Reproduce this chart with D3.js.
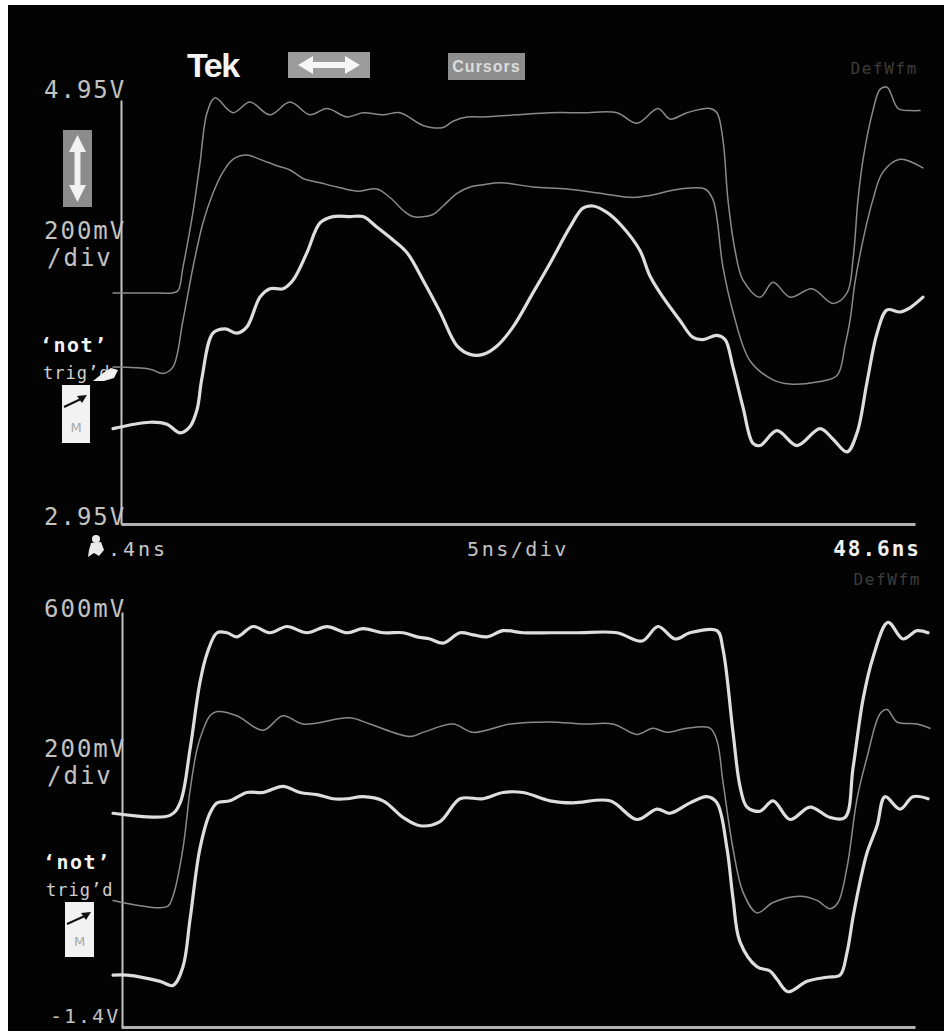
<!DOCTYPE html>
<html>
<head>
<meta charset="utf-8">
<script src="https://cdn.jsdelivr.net/npm/d3@7"></script>
<style>
  html, body { margin: 0; padding: 0; background: #fff; }
  svg { display: block; }
  .mono { font-family: "DejaVu Sans Mono", monospace; }
</style>
</head>
<body>
<svg id="scope" width="944" height="1031"></svg>
<script>
// Time base: -1.4 ns .. 48.6 ns, 5 ns/div
const timeDomain = [-1.4, 48.6];
const timeLabels = [".4ns", "5ns/div", "48.6ns"];

// Upper screen: 2.95 V .. 4.95 V, 200 mV/div
const upperDomain = [2.95, 4.95];
const upperLabels = ["4.95V", "200mV", "/div", "2.95V"];

// Lower screen: -1.4 V .. 600 mV, 200 mV/div
const lowerDomain = [-1.4, 0.6];
const lowerLabels = ["600mV", "200mV", "/div", "-1.4V"];

// Upper screen waveforms [ns, V]
const upperThin1 = [
  [-1.90,4.04],[0.43,4.04],[1.81,4.04],[2.19,4.05],[2.50,4.16],[3.13,4.42],[3.57,4.65],[4.02,4.89],
  [4.52,4.96],[5.65,4.89],[6.72,4.94],[7.98,4.88],[9.24,4.94],[10.50,4.88],[11.57,4.91],[12.83,4.87],
  [13.84,4.89],[15.10,4.88],[16.17,4.89],[17.62,4.83],[18.88,4.82],[19.51,4.85],[20.39,4.87],[21.40,4.87],
  [23.54,4.88],[25.62,4.89],[27.69,4.89],[29.83,4.89],[31.09,4.84],[32.42,4.91],[33.17,4.86],[34.24,4.89],
  [35.69,4.91],[36.13,4.89],[36.51,4.76],[36.82,4.48],[37.27,4.24],[37.77,4.10],[38.84,4.02],[39.66,4.09],
  [40.73,4.02],[42.11,4.06],[43.44,3.99],[44.32,4.04],[44.70,4.20],[45.01,4.48],[45.33,4.67],[45.95,4.90],
  [46.40,5.00],[46.84,5.01],[47.53,4.91],[48.28,4.90],[48.91,4.90]
];
const upperThin2 = [
  [-1.90,3.69],[0.43,3.68],[1.24,3.66],[1.87,3.69],[2.50,3.91],[3.13,4.16],[3.76,4.37],[4.39,4.51],
  [5.02,4.61],[5.65,4.67],[6.53,4.69],[7.35,4.67],[8.42,4.64],[9.24,4.62],[10.06,4.58],[11.13,4.56],
  [12.20,4.54],[13.46,4.52],[14.72,4.53],[15.54,4.49],[16.36,4.43],[16.99,4.40],[18.25,4.41],[18.88,4.45],
  [19.76,4.51],[20.58,4.54],[21.40,4.55],[22.47,4.56],[24.54,4.54],[26.69,4.53],[28.76,4.51],[30.84,4.49],
  [31.91,4.50],[33.80,4.53],[35.38,4.53],[35.88,4.48],[36.51,4.16],[37.14,3.95],[38.21,3.72],[39.66,3.63],
  [40.73,3.61],[42.43,3.62],[43.69,3.65],[44.19,3.79],[44.51,3.91],[44.82,4.09],[45.33,4.29],[45.95,4.48],
  [46.58,4.61],[47.66,4.67],[49.10,4.63]
];
const upperBold = [
  [-1.90,3.40],[0.43,3.43],[1.50,3.42],[2.32,3.38],[2.95,3.41],[3.39,3.49],[3.70,3.64],[4.39,3.85],
  [5.15,3.87],[5.90,3.85],[6.53,3.88],[7.35,4.02],[7.98,4.06],[8.80,4.06],[9.43,4.10],[10.31,4.23],
  [11.13,4.37],[11.95,4.40],[13.02,4.40],[13.84,4.40],[14.72,4.35],[15.73,4.29],[16.61,4.23],[17.62,4.10],
  [18.69,3.95],[19.76,3.79],[20.58,3.75],[21.40,3.75],[22.28,3.79],[23.29,3.88],[24.54,4.04],[25.62,4.18],
  [26.87,4.35],[27.69,4.44],[28.32,4.45],[29.20,4.42],[30.21,4.35],[31.28,4.24],[31.91,4.12],[32.73,4.02],
  [33.80,3.91],[34.62,3.83],[35.25,3.82],[36.13,3.84],[36.64,3.82],[37.14,3.69],[37.77,3.50],[38.40,3.33],
  [38.84,3.32],[39.91,3.39],[41.17,3.32],[42.62,3.40],[43.44,3.35],[44.32,3.29],[44.95,3.38],[45.58,3.62],
  [46.21,3.85],[46.84,3.96],[47.66,3.95],[48.28,3.97],[49.10,4.02]
];

// Lower screen waveforms [ns, V]
const lowerBold1 = [
  [-1.90,-0.37],[1.69,-0.38],[2.32,-0.32],[2.95,-0.06],[3.57,0.26],[4.02,0.40],[4.65,0.50],[5.28,0.50],
  [5.90,0.48],[6.91,0.53],[7.98,0.50],[9.05,0.53],[10.31,0.50],[11.57,0.53],[12.83,0.50],[13.84,0.52],
  [15.10,0.50],[16.36,0.50],[17.24,0.48],[18.06,0.47],[18.88,0.45],[19.95,0.50],[20.77,0.49],[21.65,0.48],
  [22.66,0.51],[23.92,0.50],[25.62,0.50],[27.32,0.50],[29.83,0.50],[31.41,0.46],[32.42,0.53],[33.49,0.47],
  [34.43,0.50],[36.13,0.51],[36.51,0.42],[37.14,0.02],[37.58,-0.24],[38.02,-0.34],[38.84,-0.36],[39.66,-0.31],
  [40.73,-0.40],[41.99,-0.34],[43.25,-0.39],[44.19,-0.39],[44.70,-0.15],[45.33,0.18],[45.95,0.38],[46.90,0.55],
  [47.84,0.47],[48.73,0.51],[49.42,0.50]
];
const lowerThin = [
  [-1.90,-0.79],[1.50,-0.82],[1.87,-0.77],[2.50,-0.54],[2.95,-0.26],[3.39,-0.06],[3.76,0.03],[4.20,0.10],
  [4.65,0.12],[5.90,0.10],[7.54,0.03],[8.80,0.10],[10.06,0.06],[13.02,0.09],[14.28,0.06],[16.80,0.00],
  [17.62,0.02],[19.51,0.06],[20.77,0.02],[23.10,0.06],[25.62,0.07],[27.69,0.06],[29.58,0.06],[31.09,0.01],
  [32.10,0.04],[32.98,0.02],[34.24,0.04],[35.69,0.04],[36.13,-0.02],[36.51,-0.22],[37.14,-0.54],[37.77,-0.75],
  [38.65,-0.85],[39.66,-0.80],[41.36,-0.77],[42.43,-0.79],[43.25,-0.83],[43.75,-0.80],[44.32,-0.63],[44.95,-0.30],
  [45.58,-0.10],[46.40,0.11],[46.84,0.13],[47.47,0.07],[48.73,0.06],[49.54,0.04]
];
const lowerBold2 = [
  [-1.90,-1.15],[-1.02,-1.15],[1.06,-1.18],[1.87,-1.20],[2.50,-1.11],[2.95,-0.88],[3.57,-0.54],[4.20,-0.37],
  [4.65,-0.32],[5.46,-0.31],[6.53,-0.27],[7.54,-0.27],[8.80,-0.24],[9.87,-0.27],[10.94,-0.28],[11.95,-0.30],
  [12.83,-0.30],[13.84,-0.29],[15.10,-0.31],[16.36,-0.39],[17.43,-0.43],[18.69,-0.41],[19.95,-0.30],[21.40,-0.30],
  [22.66,-0.27],[23.92,-0.27],[25.62,-0.31],[27.06,-0.32],[29.39,-0.31],[31.09,-0.40],[32.35,-0.35],[33.17,-0.37],
  [34.43,-0.32],[35.50,-0.29],[36.13,-0.32],[36.76,-0.54],[37.14,-0.78],[37.58,-0.99],[38.65,-1.11],[39.47,-1.13],
  [39.91,-1.17],[40.60,-1.23],[41.80,-1.18],[43.06,-1.16],[43.88,-1.15],[44.32,-1.04],[44.70,-0.87],[45.14,-0.70],
  [45.58,-0.56],[46.21,-0.43],[46.71,-0.29],[47.66,-0.35],[48.47,-0.29],[49.42,-0.30]
];

const svg = d3.select("#scope");
const W = 944, H = 1031;

// screen frame: white margin at top/left, black display
svg.append("rect").attr("width", W).attr("height", H).attr("fill", "#fff");
svg.append("rect").attr("x", 8).attr("y", 5).attr("width", W - 8).attr("height", H - 5).attr("fill", "#030303");

const x = d3.scaleLinear().domain(timeDomain).range([121, 915]);
const yU = d3.scaleLinear().domain(upperDomain).range([524, 100]);
const yL = d3.scaleLinear().domain(lowerDomain).range([1027, 612]);

// axes (baseline + left rail), no ticks
function rails(yScale, xPos) {
  const g = svg.append("g");
  g.append("g").attr("transform", `translate(${xPos},0)`)
    .call(d3.axisLeft(yScale).tickValues([]).tickSizeOuter(0))
    .call(s => s.select(".domain").attr("stroke", "#c4c4c4").attr("stroke-width", 2));
  g.append("g").attr("transform", `translate(0,${yScale.range()[0]})`)
    .call(d3.axisBottom(x).tickValues([]).tickSizeOuter(0))
    .call(s => s.select(".domain").attr("stroke", "#b2b2b2").attr("stroke-width", 3));
}
rails(yU, 121);
rails(yL, 122);

// waveforms
function trace(data, yScale, bold) {
  const line = d3.line()
    .x(d => x(d[0])).y(d => yScale(d[1]))
    .curve(d3.curveCatmullRom.alpha(0.5));
  svg.append("path").datum(data)
    .attr("d", line)
    .attr("fill", "none")
    .attr("stroke", bold ? "#dedede" : "#8a8a8a")
    .attr("stroke-width", bold ? 3.2 : 1.5)
    .attr("stroke-linejoin", "round")
    .attr("stroke-linecap", "round");
}
trace(upperThin1, yU, false);
trace(upperThin2, yU, false);
trace(upperBold, yU, true);
trace(lowerBold1, yL, true);
trace(lowerThin, yL, false);
trace(lowerBold2, yL, true);

// readout text
function txt(s, px, py, opt = {}) {
  return svg.append("text")
    .attr("class", "mono")
    .attr("x", px).attr("y", py)
    .attr("font-size", opt.size || 24)
    .attr("font-weight", opt.weight || "normal")
    .attr("letter-spacing", opt.ls != null ? opt.ls : 2)
    .attr("text-anchor", opt.anchor || "start")
    .attr("fill", opt.fill || "#c2c2c2")
    .text(s);
}

// upper screen scale readouts
txt(upperLabels[0], 44, yU(upperDomain[1]) - 2);
txt(upperLabels[1], 44, 239);
txt(upperLabels[2], 47, 266);
txt(upperLabels[3], 44, yU(upperDomain[0]) + 1);
txt("\u2018not\u2019", 40, 352, { size: 20, weight: "bold", ls: 1.5, fill: "#f2f2f2" });
txt("trig\u2019d", 43, 379, { size: 17, ls: 1, fill: "#cfcfcf" });

// lower screen scale readouts
txt(lowerLabels[0], 44, yL(lowerDomain[1]) + 5);
txt(lowerLabels[1], 44, 757);
txt(lowerLabels[2], 47, 784);
txt(lowerLabels[3], 50, 1023, { size: 20 });
txt("\u2018not\u2019", 43, 869, { size: 20, weight: "bold", ls: 1.5, fill: "#f2f2f2" });
txt("trig\u2019d", 46, 896, { size: 17, ls: 1, fill: "#cfcfcf" });

// time readouts
txt(timeLabels[0], 108, 556, { size: 20, ls: 3, fill: "#c8c8c8" });
txt(timeLabels[1], (x.range()[0] + x.range()[1]) / 2, 556, { size: 20, ls: 2.5, anchor: "middle", fill: "#c2c2c2" });
txt(timeLabels[2], 921, 556, { size: 21, weight: "bold", ls: 2, anchor: "end", fill: "#f0f0f0" });

// reference waveform tags
txt("DefWfm", 918, 74, { size: 16, ls: 1.6, anchor: "end", fill: "#3c3c3c" });
txt("DefWfm", 921, 585, { size: 16, ls: 1.6, anchor: "end", fill: "#3c3c3c" });

// header: Tek logo, horizontal-position button, Cursors button
svg.append("text").attr("x", 187).attr("y", 77)
  .attr("font-family", "Liberation Sans, Arial, sans-serif")
  .attr("font-weight", "bold").attr("font-size", 34).attr("letter-spacing", -1.5)
  .attr("fill", "#f4f4f4").text("Tek");

svg.append("rect").attr("x", 288).attr("y", 52).attr("width", 82).attr("height", 26).attr("fill", "#9c9c9c");
svg.append("path")
  .attr("d", "M298,65 L313,56 L313,62 L345,62 L345,56 L360,65 L345,74 L345,68 L313,68 L313,74 Z")
  .attr("fill", "#f6f6f6");

svg.append("rect").attr("x", 448).attr("y", 53).attr("width", 77).attr("height", 27).attr("fill", "#8e8e8e");
svg.append("text").attr("x", 486.5).attr("y", 72)
  .attr("font-family", "Liberation Sans, Arial, sans-serif")
  .attr("font-weight", "bold").attr("font-size", 16).attr("letter-spacing", 1)
  .attr("text-anchor", "middle").attr("fill", "#dcdcdc").text("Cursors");

// vertical-position button (upper screen)
svg.append("rect").attr("x", 63).attr("y", 130).attr("width", 29).attr("height", 77).attr("fill", "#8c8c8c");
svg.append("path")
  .attr("d", "M77.5,135 L86,152 L80.5,152 L80.5,185 L86,185 L77.5,202 L69,185 L74.5,185 L74.5,152 L69,152 Z")
  .attr("fill", "#f2f2f2");

// trigger pointer (upper screen)
svg.append("path")
  .attr("d", "M93,381 L103,373 L111,368 L118,370 L114,378 L104,381 Z")
  .attr("fill", "#f0f0f0");

// trigger-mode icons
function modeIcon(bx, by, bw, bh) {
  svg.append("rect").attr("x", bx).attr("y", by).attr("width", bw).attr("height", bh).attr("fill", "#f2f2f2");
  const ax0 = bx + 2, ay0 = by + 22, ax1 = bx + bw - 3, ay1 = by + 10;
  svg.append("line").attr("x1", ax0).attr("y1", ay0).attr("x2", ax1 - 4).attr("y2", ay1 + 3)
    .attr("stroke", "#111").attr("stroke-width", 2);
  svg.append("path")
    .attr("d", `M${ax1},${ay1} L${ax1 - 10},${ay1 + 1} L${ax1 - 5},${ay1 + 8} Z`)
    .attr("fill", "#111");
  svg.append("text").attr("x", bx + bw / 2).attr("y", by + bh - 11)
    .attr("font-family", "DejaVu Sans, sans-serif").attr("font-size", 13)
    .attr("text-anchor", "middle").attr("fill", "#a8a8a8").text("M");
}
modeIcon(62, 385, 28, 58);
modeIcon(65, 902, 29, 55);

// trigger-position marker at the start of the record
svg.append("circle").attr("cx", 96).attr("cy", 539).attr("r", 4).attr("fill", "#eaeaea");
svg.append("path")
  .attr("d", "M91,543 L101,542 L104,550 L99,556 L94,553 L88,557 L89,550 Z")
  .attr("fill", "#eaeaea");
</script>
</body>
</html>
